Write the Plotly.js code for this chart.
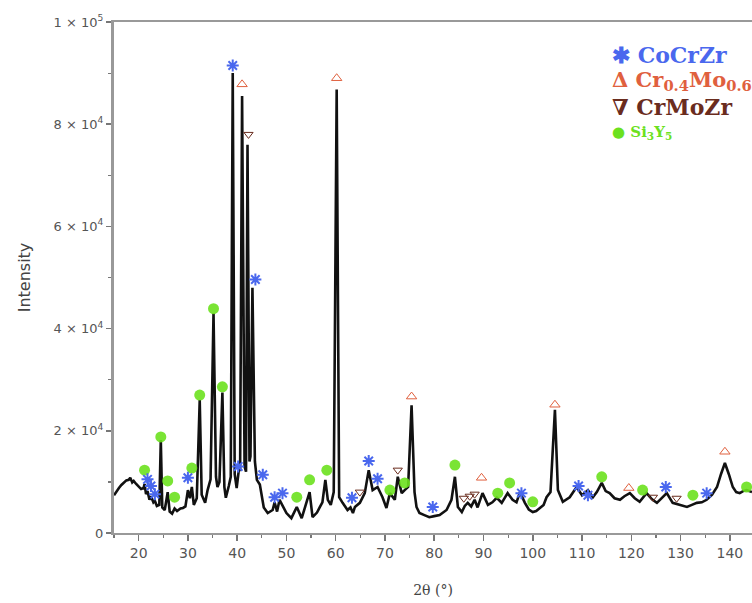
<!DOCTYPE html>
<html>
<head>
<meta charset="utf-8">
<script src="https://cdn.plot.ly/plotly-3.0.1.min.js"></script>
<style>
  html, body { margin: 0; padding: 0; background: #fff; }
  #chart { width: 752px; height: 603px; }
</style>
</head>
<body>
<div id="chart"></div>
<script>
// XRD pattern: diffraction angle 2θ (degrees) and measured intensity
const twoTheta = [
  15.0, 15.5, 16.0, 16.5, 17.0, 17.5, 18.0, 18.3, 18.7, 19.0, 19.5, 20.0, 20.5, 21.0, 21.2, 21.5,
  21.8, 22.2, 22.5, 23.0, 23.3, 23.7, 24.2, 24.5, 24.8, 25.3, 25.9, 26.3, 26.8, 27.3, 27.8, 28.5,
  29.0, 29.5, 30.0, 30.4, 30.8, 31.2, 31.8, 32.4, 32.8, 33.5, 34.0, 34.6, 35.2, 35.7, 36.0, 36.4,
  37.0, 37.4, 37.7, 38.3, 38.7, 39.1, 39.5, 39.9, 40.3, 40.6, 41.0, 41.5, 41.8, 42.1, 42.5, 42.7,
  43.1, 43.6, 44.0, 44.6, 45.0, 45.4, 46.2, 47.2, 47.6, 48.1, 48.6, 49.2, 50.0, 51.0, 52.1, 53.1,
  54.3, 54.7, 55.3, 56.2, 56.8, 57.3, 57.9, 58.4, 59.0, 59.6, 60.2, 60.7, 61.4, 62.4, 63.0, 63.5,
  63.9, 64.9, 65.9, 66.7, 67.5, 68.5, 69.5, 70.3, 71.0, 72.0, 72.6, 73.4, 74.0, 74.7, 75.4, 76.0,
  76.4, 77.0, 78.0, 79.0, 80.0, 81.1, 82.5, 83.5, 84.2, 84.8, 85.6, 86.2, 86.8, 87.5, 88.2, 88.8,
  89.8, 90.9, 91.8, 92.7, 93.7, 94.9, 95.9, 96.7, 97.4, 98.4, 99.2, 100.0, 100.7, 101.4, 102.2, 102.8,
  103.6, 104.5, 105.1, 106.1, 107.5, 108.9, 110.0, 111.2, 112.2, 113.0, 114.0, 114.8, 115.6, 116.6, 117.7, 118.6,
  119.7, 120.7, 121.7, 123.1, 124.2, 125.2, 126.2, 127.2, 128.4, 129.8, 131.3, 132.3, 133.3, 134.3, 135.3, 136.4,
  137.4, 138.2, 139.0, 139.8, 140.6, 141.3, 142.0, 142.7, 143.4, 144.5
];
const intensity = [
  7400, 8200, 8800, 9400, 9800, 10300, 10400, 10800, 9900, 10200, 9600, 9000, 8600, 8800, 9600, 7600,
  8200, 6500, 7200, 6000, 6300, 5300, 5500, 18200, 5000, 4500, 8000, 4200, 3800, 4800, 4300, 4800,
  4900, 5200, 8400, 6800, 9000, 5500, 6800, 26000, 7500, 5900, 8400, 10500, 43000, 11000, 9000, 10000,
  27500, 9000, 6900, 9200, 11000, 90000, 11500, 8800, 12000, 12500, 85500, 13000, 12000, 76000, 14000, 15000,
  48000, 14000, 10400, 9500, 7000, 5000, 3900, 4500, 6000, 4200, 6500, 5500, 3900, 2900, 5100, 2900,
  7000, 8000, 3100, 4000, 5100, 6000, 10400, 6500, 5500, 8000, 86800, 7000, 5900, 4500, 5000, 3900,
  5100, 5900, 7800, 12300, 8400, 9000, 7000, 4900, 7800, 6500, 11000, 7800, 8400, 9000, 25000, 8000,
  5100, 3900, 3500, 3100, 3300, 3500, 4500, 6500, 11000, 5100, 4100, 5300, 5900, 5200, 6500, 5000,
  7800, 5500, 6000, 6900, 5900, 7800, 6500, 6000, 8000, 5900, 4600, 4100, 4300, 4900, 5500, 7000,
  8000, 24100, 8400, 6100, 7000, 9000, 7400, 8400, 7000, 8000, 9800, 8200, 7800, 6800, 6500, 7200,
  7800, 6800, 6100, 7800, 6600, 5900, 6800, 7800, 5900, 5500, 5100, 5500, 5900, 6000, 6500, 7500,
  9000, 11500, 13700, 11500, 9000, 8000, 7800, 8200, 8400, 8000
];

// Phase identification marks (2θ, intensity at which each mark sits)
const cocrzrX = [21.8, 22.5, 23.3, 30.0, 39.1, 40.2, 43.7, 45.2, 47.6, 49.2, 63.3, 66.7, 68.5, 79.7, 97.7, 109.3, 111.2, 127.0, 135.3];
const cocrzrY = [10500, 9200, 7600, 10800, 91500, 13000, 49600, 11400, 7000, 7800, 6900, 14100, 10600, 5100, 7800, 9200, 7400, 9000, 7800];

const crmoX = [41.0, 60.2, 75.4, 89.6, 104.5, 119.5, 139.0];
const crmoY = [87800, 89000, 26700, 10800, 25100, 8800, 15900];

const crmozrX = [42.3, 64.9, 72.6, 86.0, 87.2, 88.2, 124.4, 129.2];
const crmozrY = [78000, 8000, 12300, 6800, 7200, 7600, 7000, 6800];

const si3y5X = [21.2, 24.5, 25.9, 27.3, 30.8, 32.4, 35.2, 37.0, 52.1, 54.7, 58.2, 71.0, 74.0, 84.2, 92.9, 95.3, 100.0, 114.0, 122.3, 132.5, 143.4];
const si3y5Y = [12300, 18800, 10200, 7000, 12700, 27000, 43900, 28600, 7000, 10400, 12300, 8400, 9800, 13300, 7800, 9800, 6100, 11000, 8400, 7400, 9000];

// Axis ticks
const xTickVals = [20, 30, 40, 50, 60, 70, 80, 90, 100, 110, 120, 130, 140];
const yTickVals = [0, 20000, 40000, 60000, 80000, 100000];
const yTickText = ['0', '2 × 10<sup>4</sup>', '4 × 10<sup>4</sup>', '6 × 10<sup>4</sup>', '8 × 10<sup>4</sup>', '1 × 10<sup>5</sup>'];

const BLUE = '#4a68ee';
const RED = '#e0603e';
const BROWN = '#6a2c1e';
const GREEN = '#6ce11e';

const traces = [
  {
    x: twoTheta, y: intensity, type: 'scatter', mode: 'lines',
    line: { color: '#111', width: 2.6 }, showlegend: false, hoverinfo: 'skip'
  },
  {
    x: si3y5X, y: si3y5Y, type: 'scatter', mode: 'markers', name: 'Si3Y5',
    marker: { symbol: 'circle', size: 11, color: GREEN, opacity: 0.9 }, showlegend: false
  },
  {
    x: cocrzrX, y: cocrzrY, type: 'scatter', mode: 'markers', name: 'CoCrZr',
    marker: { symbol: 'asterisk-open', size: 10, color: BLUE, line: { color: BLUE, width: 2 } }, showlegend: false
  },
  {
    x: crmoX, y: crmoY, type: 'scatter', mode: 'markers', name: 'Cr0.4Mo0.6',
    marker: { symbol: 'triangle-up-open', size: 9, color: RED, line: { color: RED, width: 1 } }, showlegend: false
  },
  {
    x: crmozrX, y: crmozrY, type: 'scatter', mode: 'markers', name: 'CrMoZr',
    marker: { symbol: 'triangle-down-open', size: 8, color: BROWN, line: { color: BROWN, width: 1 } }, showlegend: false
  }
];

const legendFont = (color, size) => ({ family: 'DejaVu Serif, serif', size: size, color: color });
const legendX = (610 - 114) / 638;

const layout = {
  width: 752, height: 603,
  margin: { l: 114, r: 0, t: 22, b: 70 },
  paper_bgcolor: '#ffffff', plot_bgcolor: '#ffffff',
  xaxis: {
    range: [15, 144.5],
    tickvals: xTickVals,
    ticks: 'outside', ticklen: 6, tickwidth: 1.5, tickcolor: '#777',
    minor: { dtick: 5, tick0: 15, ticks: 'outside', ticklen: 3, tickcolor: '#777', tickwidth: 1.2 },
    showline: true, linecolor: '#999', linewidth: 2, mirror: true,
    showgrid: false, zeroline: false,
    tickfont: { family: 'DejaVu Sans, sans-serif', size: 14, color: '#555' },
    title: { text: '2θ (°)', font: { family: 'DejaVu Serif, serif', size: 14, color: '#444' }, standoff: 25 }
  },
  yaxis: {
    range: [0, 100000],
    tickvals: yTickVals, ticktext: yTickText,
    ticks: 'outside', ticklen: 5, tickwidth: 1.5, tickcolor: '#777',
    minor: { dtick: 10000, ticks: 'outside', ticklen: 3, tickcolor: '#777', tickwidth: 1.2 },
    showline: true, linecolor: '#999', linewidth: 3,
    showgrid: false, zeroline: false,
    tickfont: { family: 'DejaVu Sans, sans-serif', size: 13, color: '#555' },
    title: { text: 'Intensity', font: { family: 'DejaVu Sans, sans-serif', size: 16, color: '#444' }, standoff: 20 }
  },
  showlegend: false,
  annotations: [
    { xref: 'paper', yref: 'paper', x: legendX, y: 0.935, xanchor: 'left', yanchor: 'middle', showarrow: false,
      text: '<b>✱ CoCrZr</b>', font: legendFont(BLUE, 22) },
    { xref: 'paper', yref: 'paper', x: legendX, y: 0.886, xanchor: 'left', yanchor: 'middle', showarrow: false,
      text: '<b>Δ Cr<sub>0.4</sub>Mo<sub>0.6</sub></b>', font: legendFont(RED, 21) },
    { xref: 'paper', yref: 'paper', x: legendX, y: 0.833, xanchor: 'left', yanchor: 'middle', showarrow: false,
      text: '<b>∇ CrMoZr</b>', font: legendFont(BROWN, 22) },
    { xref: 'paper', yref: 'paper', x: legendX, y: 0.784, xanchor: 'left', yanchor: 'middle', showarrow: false,
      text: '<b>● Si<sub>3</sub>Y<sub>5</sub></b>', font: legendFont(GREEN, 15) }
  ]
};

Plotly.newPlot('chart', traces, layout, { staticPlot: true, displayModeBar: false });
</script>
</body>
</html>
